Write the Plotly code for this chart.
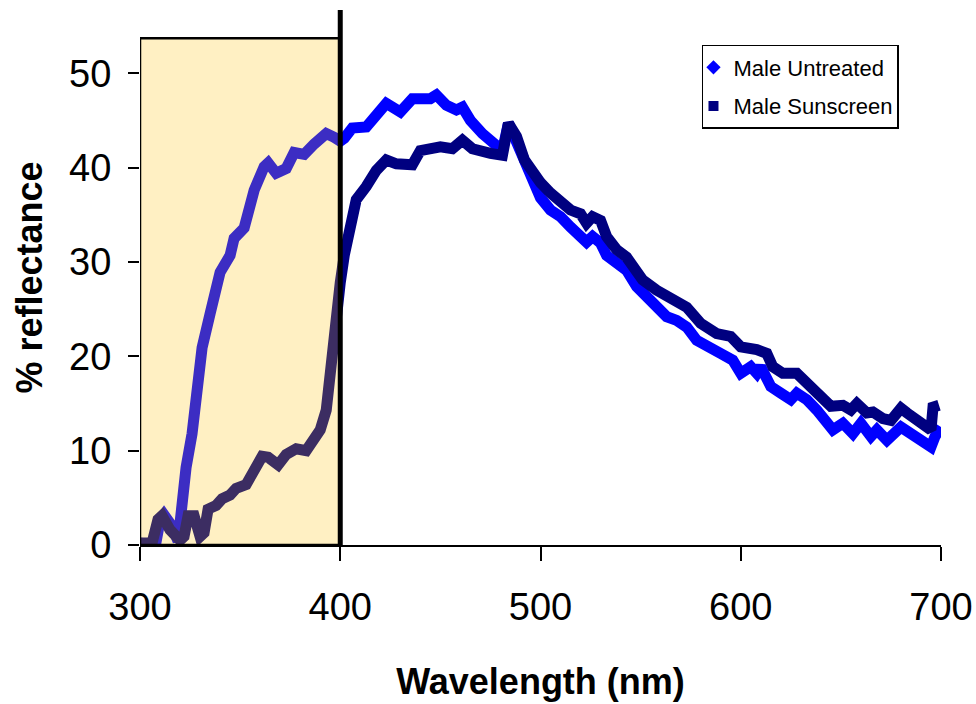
import plotly.graph_objects as go

# Male Untreated (blue diamonds)
untreated_wl = [300, 304, 308, 310, 312, 314, 316, 319, 321, 323, 326, 328, 331, 335, 337, 340,
                345, 347, 352, 354, 357, 362, 364, 368, 373, 377, 382, 387, 393, 397, 400,
                402, 406, 413, 418, 423, 430, 436, 445, 448, 453, 458, 461, 465, 471, 478,
                481, 484, 490, 496, 500, 505, 510, 515, 518, 523, 526, 530, 533, 538, 543,
                548, 553, 558, 563, 568, 573, 578, 583, 590, 596, 600, 605, 608, 610, 615,
                620, 625, 628, 633, 638, 643, 646, 651, 656, 660, 665, 668, 673, 680, 685,
                690, 695, 697, 700]
untreated_val = [0.2, 0.1, 0.3, 2.6, 3.2, 2.8, 2.0, 0.4, 4.5, 8.2, 11.8, 16.5, 20.9, 24.5, 26.3, 28.9,
                 30.7, 32.5, 33.6, 35.8, 37.6, 40.1, 40.5, 39.4, 39.9, 41.6, 41.4, 42.5, 43.6, 43.2, 42.8,
                 43.1, 44.2, 44.3, 45.7, 46.8, 45.9, 47.3, 47.3, 47.7, 46.6, 46.1, 46.4, 45.0, 43.6, 42.2,
                 41.8, 44.7, 41.8, 38.7, 36.8, 35.5, 34.8, 33.7, 33.0, 32.1, 32.7, 32.0, 30.7, 29.8, 29.1,
                 27.4, 26.3, 24.9, 24.2, 23.8, 23.1, 21.7, 21.0, 20.3, 19.6, 18.2, 18.9, 18.2, 18.9, 16.8,
                 16.1, 15.4, 16.1, 15.4, 14.3, 12.9, 12.2, 12.9, 11.8, 12.9, 11.5, 12.2, 11.1, 12.5, 11.8,
                 11.1, 10.4, 11.5, 12.5]

# Male Sunscreen (navy squares)
sunscreen_wl = [300, 306, 309, 311, 315, 320, 322, 324, 327, 330, 332, 334, 338, 341, 345, 348,
                353, 357, 361, 364, 369, 373, 378, 383, 386, 390, 393, 395, 397, 398, 400,
                402, 405, 408, 413, 418, 423, 428, 436, 440, 450, 456, 461, 466, 475, 481,
                484, 488, 492, 496, 500, 505, 510, 515, 520, 523, 526, 530, 533, 538, 543,
                548, 551, 558, 565, 573, 580, 588, 595, 600, 608, 613, 616, 621, 628, 633,
                638, 641, 645, 651, 655, 658, 663, 666, 671, 675, 680, 683, 688, 693, 695,
                696, 699]
sunscreen_val = [0.2, 0.2, 2.7, 3.1, 1.6, 0.5, 0.9, 3.1, 3.1, 0.9, 1.3, 3.8, 4.2, 4.9, 5.3, 6.0,
                 6.4, 8.2, 9.4, 9.3, 8.5, 9.6, 10.2, 10.0, 11.1, 12.2, 14.3, 18.3, 22.0, 25.6, 27.8,
                 30.7, 33.6, 36.6, 38.0, 39.7, 40.8, 40.4, 40.3, 41.8, 42.2, 42.0, 42.9, 42.0, 41.5, 41.3,
                 44.7, 43.3, 40.8, 39.4, 38.4, 37.3, 36.5, 35.5, 35.1, 34.1, 34.8, 34.4, 32.7, 31.3, 30.5,
                 29.1, 28.1, 27.0, 26.3, 25.2, 23.5, 22.4, 22.1, 21.0, 20.7, 20.3, 18.9, 18.2, 18.2, 17.1,
                 16.4, 15.4, 14.7, 14.8, 14.3, 15.0, 14.0, 14.1, 13.4, 13.2, 14.5, 14.0, 13.2, 12.5, 12.2,
                 14.6, 14.8]

series_names = ["Male Untreated", "Male Sunscreen"]
x_ticks = [300, 400, 500, 600, 700]
y_ticks = [0, 10, 20, 30, 40, 50]
uv_band = [300, 400]
uv_top = 53.7
y_max = 56.7

BLUE = "#0000FF"
NAVY = "#000080"
FONT = "Liberation Sans, Arial, sans-serif"

fig = go.Figure()
fig.add_trace(go.Scatter(x=untreated_wl, y=untreated_val, mode="lines",
                         line=dict(color=BLUE, width=11), showlegend=False))
fig.add_trace(go.Scatter(x=sunscreen_wl, y=sunscreen_val, mode="lines",
                         line=dict(color=NAVY, width=11), showlegend=False))
fig.add_trace(go.Scatter(x=[None], y=[None], mode="markers", name=series_names[0],
                         marker=dict(symbol="diamond", color=BLUE, size=11),
                         legendgroup="a"))
fig.add_trace(go.Scatter(x=[None], y=[None], mode="markers", name=series_names[1],
                         marker=dict(symbol="square", color=NAVY, size=10),
                         legendgroup="b"))

# UV band overlay (semi-transparent, drawn above the lines)
fig.add_shape(type="rect", xref="x", yref="y", x0=uv_band[0], x1=uv_band[1], y0=0, y1=uv_top,
              fillcolor="rgba(255,191,0,0.235)", line=dict(color="black", width=2.5), layer="above")
fig.add_shape(type="line", xref="x", yref="y", x0=uv_band[1], x1=uv_band[1], y0=0, y1=y_max,
              line=dict(color="black", width=5), layer="above")

fig.update_layout(
    width=976, height=704,
    margin=dict(l=140, r=35, t=10, b=159),
    paper_bgcolor="white", plot_bgcolor="white",
    font=dict(family=FONT, color="black"),
    legend=dict(x=0.7016, y=0.9346, xanchor="left", yanchor="top",
                bgcolor="white", bordercolor="black", borderwidth=1.5,
                font=dict(size=22, family=FONT), tracegroupgap=7,
                traceorder="grouped", indentation=-10),
    xaxis=dict(range=[300, 700], tickvals=x_ticks, ticks="outside", ticklen=14,
               tickwidth=1.5, tickcolor="black", showline=True, linecolor="black",
               linewidth=2, showgrid=False, zeroline=False, automargin=False,
               tickfont=dict(size=38, family=FONT), ticklabelstandoff=13,
               title=dict(text="<b>Wavelength (nm)</b>", font=dict(size=36, family=FONT),
                          standoff=42)),
    yaxis=dict(range=[0, y_max], tickvals=y_ticks, ticks="outside", ticklen=11,
               tickwidth=1.5, tickcolor="black", showline=False,
               showgrid=False, zeroline=False, automargin=False,
               tickfont=dict(size=38, family=FONT), ticklabelstandoff=9,
               title=dict(text="<b>% reflectance</b>", font=dict(size=36, family=FONT),
                          standoff=15)),
)

fig.write_html("out.html", config={"displayModeBar": False},
               post_script="document.body.style.margin='0px';")
